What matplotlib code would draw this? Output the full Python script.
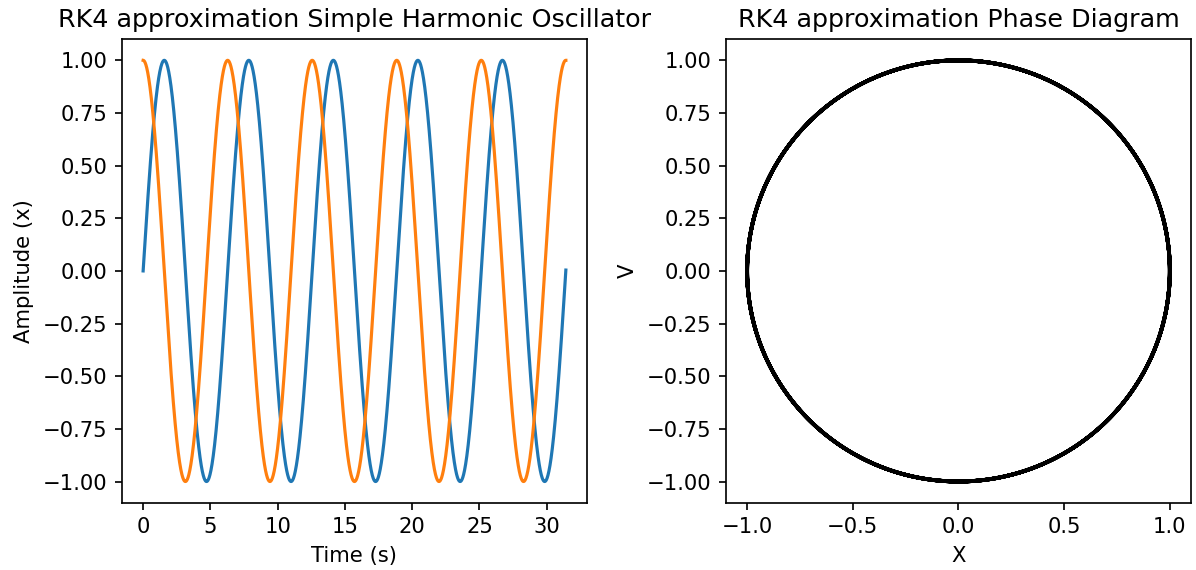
import matplotlib.pyplot as plt
import numpy as np

# simulation settings (simple harmonic oscillator x'' = -x)
t_start = 0.0
t_end = 10 * np.pi
dt = 0.01
x0 = 0.0
v0 = 1.0


def deriv(state):
    x, v = state
    return np.array([v, -x])


# RK4 integration
t = np.arange(t_start, t_end + dt / 2, dt)
states = np.zeros((len(t), 2))
states[0] = [x0, v0]
for i in range(len(t) - 1):
    s = states[i]
    k1 = deriv(s)
    k2 = deriv(s + dt / 2 * k1)
    k3 = deriv(s + dt / 2 * k2)
    k4 = deriv(s + dt * k3)
    states[i + 1] = s + dt / 6 * (k1 + 2 * k2 + 2 * k3 + k4)

x = states[:, 0]
v = states[:, 1]

dpi = 152
fig = plt.figure(figsize=(1196 / dpi, 570 / dpi), dpi=dpi)
ax1 = fig.add_axes([0.102, 0.1183, 0.3888, 0.8128])
ax2 = fig.add_axes([0.607, 0.1183, 0.3888, 0.8128])

ax1.plot(t, x, color='#1f77b4')
ax1.plot(t, v, color='#ff7f0e')
ax1.set_title('RK4 approximation Simple Harmonic Oscillator')
ax1.set_xlabel('Time (s)')
ax1.set_ylabel('Amplitude (x)')

ax2.plot(x, v, color='black', linewidth=1.8)
ax2.set_title('RK4 approximation Phase Diagram')
ax2.set_xlabel('X')
ax2.set_ylabel('V')

plt.savefig('out.png', dpi=dpi)
